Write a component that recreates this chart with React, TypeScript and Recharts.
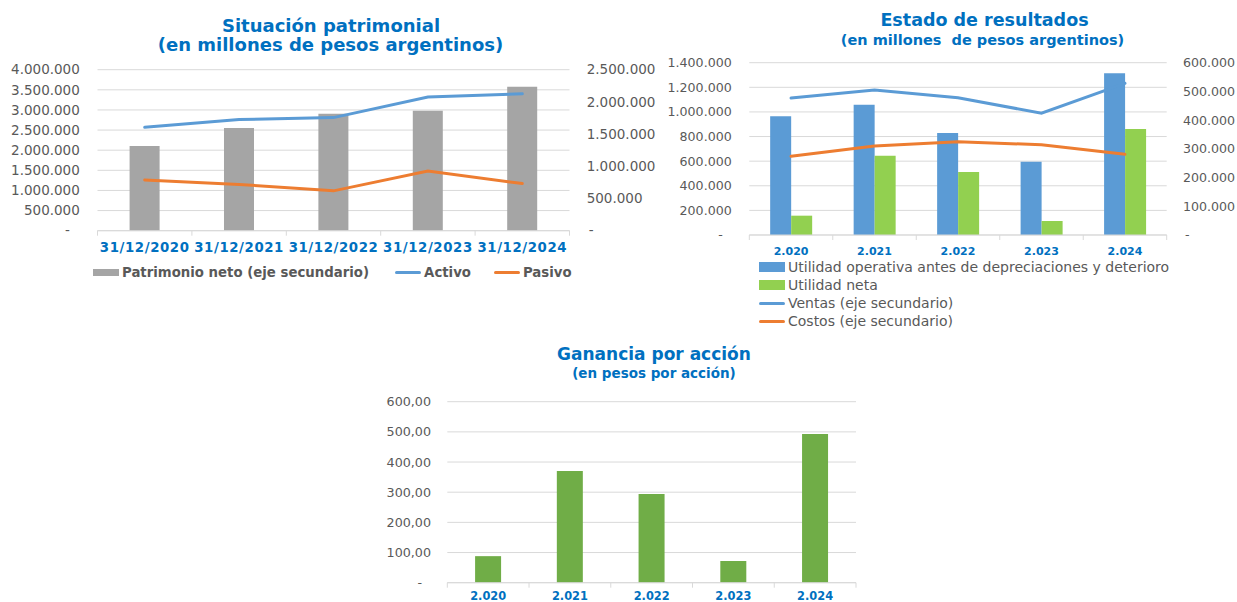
import {
  Bar,
  BarChart,
  CartesianGrid,
  ComposedChart,
  Line,
  XAxis,
  YAxis,
} from "recharts";

// Situación patrimonial (millones de pesos)
const fechas = ["31/12/2020", "31/12/2021", "31/12/2022", "31/12/2023", "31/12/2024"];
const patrimonioNeto = [1315000, 1595000, 1817000, 1863000, 2236000];
const activo = [2570000, 2760000, 2810000, 3320000, 3400000];
const pasivo = [1260000, 1150000, 990000, 1480000, 1170000];
const ticksActivo = [0, 500000, 1000000, 1500000, 2000000, 2500000, 3000000, 3500000, 4000000];
const ticksPatrimonio = [0, 500000, 1000000, 1500000, 2000000, 2500000];

// Estado de resultados (millones de pesos)
const anios = ["2.020", "2.021", "2.022", "2.023", "2.024"];
const utilidadOperativa = [964000, 1059000, 829000, 596000, 1314000];
const utilidadNeta = [157000, 644000, 512000, 114000, 861000];
const ventas = [477000, 505000, 478000, 424000, 528000];
const costos = [274000, 310000, 325000, 314000, 281000];
const ticksResultados = [0, 200000, 400000, 600000, 800000, 1000000, 1200000, 1400000];
const ticksVentas = [0, 100000, 200000, 300000, 400000, 500000, 600000];

// Ganancia por acción (pesos por acción)
const gananciaPorAccion = [88, 370, 294, 72, 493];
const ticksGanancia = [0, 100, 200, 300, 400, 500, 600];

const FONT = "'DejaVu Sans', Verdana, sans-serif";
const AZUL_TITULO = "#0070C0";
const GRIS_TEXTO = "#595959";
const GRIS_LINEA = "#D9D9D9";

const miles = (v: number) =>
  v === 0 ? "-" : Math.round(v).toString().replace(/\B(?=(\d{3})+(?!\d))/g, ".");
const decimales = (v: number) => (v === 0 ? "-" : v.toFixed(2).replace(".", ","));

const situacionData = fechas.map((fecha, i) => ({
  fecha,
  patrimonioNeto: patrimonioNeto[i],
  activo: activo[i],
  pasivo: pasivo[i],
}));

const resultadosData = anios.map((anio, i) => ({
  anio,
  utilidadOperativa: utilidadOperativa[i],
  utilidadNeta: utilidadNeta[i],
  ventas: ventas[i],
  costos: costos[i],
}));

const gananciaData = anios.map((anio, i) => ({ anio, ganancia: gananciaPorAccion[i] }));

function ValueTick(props: any) {
  const { x, y, payload, textAnchor, format, size, zeroShift } = props;
  const isZero = payload.value === 0;
  return (
    <text
      x={x + (isZero ? zeroShift : 0)}
      y={y}
      dy="0.355em"
      textAnchor={textAnchor}
      fill={GRIS_TEXTO}
      fontSize={size}
      fontFamily={FONT}
    >
      {format(payload.value)}
    </text>
  );
}

function CategoryTick(props: any) {
  const { x, y, payload, index, visibleTicksCount, gap, size, spacing } = props;
  const half = payload.offset ?? 0;
  const top = y - gap;
  return (
    <g>
      <line x1={x - half} x2={x - half} y1={top} y2={top + 5} stroke={GRIS_LINEA} />
      {index === visibleTicksCount - 1 && (
        <line x1={x + half} x2={x + half} y1={top} y2={top + 5} stroke={GRIS_LINEA} />
      )}
      <text
        x={x}
        y={y}
        dy="0.71em"
        textAnchor="middle"
        fill={AZUL_TITULO}
        fontSize={size}
        fontWeight="bold"
        fontFamily={FONT}
        letterSpacing={spacing}
      >
        {payload.value}
      </text>
    </g>
  );
}

function Title({ text, center, top, size }: { text: string; center: number; top: number; size: number }) {
  return (
    <div
      style={{
        position: "absolute",
        left: center - 250,
        top,
        width: 500,
        textAlign: "center",
        fontFamily: FONT,
        fontWeight: "bold",
        fontSize: size,
        lineHeight: 1,
        color: AZUL_TITULO,
        whiteSpace: "pre",
      }}
    >
      {text}
    </div>
  );
}

function Swatch({ color, kind, height }: { color: string; kind: "bar" | "line"; height?: number }) {
  return (
    <span
      style={{
        display: "inline-block",
        width: 26,
        height: kind === "bar" ? height ?? 8 : 3,
        background: color,
        marginRight: 3,
        borderRadius: kind === "line" ? 1.5 : 0,
      }}
    />
  );
}

function SituacionPatrimonial() {
  return (
    <>
      <Title text="Situación patrimonial" center={331} top={16.5} size={18} />
      <Title text="(en millones de pesos argentinos)" center={330.5} top={35.8} size={18} />
      <div style={{ position: "absolute", left: 0, top: 0 }}>
        <ComposedChart
          width={660}
          height={290}
          data={situacionData}
          margin={{ top: 69.7, right: 0, bottom: 29.3, left: 0 }}
          barCategoryGap="34%"
        >
          <CartesianGrid yAxisId="left" vertical={false} stroke={GRIS_LINEA} />
          <XAxis
            dataKey="fecha"
            height={30}
            interval={0}
            tickSize={0}
            tickMargin={11.6}
            axisLine={{ stroke: GRIS_LINEA }}
            tick={(p: any) => <CategoryTick {...p} gap={11.6} size={13.3} spacing={0.6} />}
          />
          <YAxis
            yAxisId="left"
            width={97.5}
            domain={[0, 4000000]}
            ticks={ticksActivo}
            interval={0}
            axisLine={false}
            tickLine={false}
            tickSize={0}
            tickMargin={17.7}
            tick={(p: any) => <ValueTick {...p} format={miles} size={13.5} zeroShift={-10} />}
          />
          <YAxis
            yAxisId="right"
            orientation="right"
            width={90.5}
            domain={[0, 2500000]}
            ticks={ticksPatrimonio}
            interval={0}
            axisLine={false}
            tickLine={false}
            tickSize={0}
            tickMargin={17.2}
            tick={(p: any) => <ValueTick {...p} format={miles} size={13.5} zeroShift={2} />}
          />
          <Bar yAxisId="right" dataKey="patrimonioNeto" fill="#A5A5A5" isAnimationActive={false} />
          <Line
            yAxisId="left"
            type="linear"
            dataKey="activo"
            stroke="#5B9BD5"
            strokeWidth={3}
            strokeLinecap="round"
            dot={false}
            isAnimationActive={false}
          />
          <Line
            yAxisId="left"
            type="linear"
            dataKey="pasivo"
            stroke="#ED7D31"
            strokeWidth={3}
            strokeLinecap="round"
            dot={false}
            isAnimationActive={false}
          />
        </ComposedChart>
      </div>
      <div
        style={{
          position: "absolute",
          left: 93,
          top: 264,
          height: 17,
          display: "flex",
          alignItems: "center",
          fontFamily: FONT,
          fontWeight: "bold",
          fontSize: 13.3,
          color: GRIS_TEXTO,
          whiteSpace: "nowrap",
        }}
      >
        <Swatch color="#A5A5A5" kind="bar" height={7} />
        <span style={{ marginRight: 26 }}>Patrimonio neto (eje secundario)</span>
        <Swatch color="#5B9BD5" kind="line" />
        <span style={{ marginRight: 23 }}>Activo</span>
        <Swatch color="#ED7D31" kind="line" />
        <span>Pasivo</span>
      </div>
    </>
  );
}

function EstadoResultados() {
  const items = [
    { label: "Utilidad operativa antes de depreciaciones y deterioro", color: "#5B9BD5", kind: "bar" as const },
    { label: "Utilidad neta", color: "#92D050", kind: "bar" as const },
    { label: "Ventas (eje secundario)", color: "#5B9BD5", kind: "line" as const },
    { label: "Costos (eje secundario)", color: "#ED7D31", kind: "line" as const },
  ];
  return (
    <>
      <Title text="Estado de resultados" center={984.5} top={11.5} size={17.5} />
      <Title text="(en millones  de pesos argentinos)" center={982.5} top={33.4} size={14.5} />
      <div style={{ position: "absolute", left: 640, top: 0 }}>
        <ComposedChart
          width={597}
          height={340}
          data={resultadosData}
          margin={{ top: 62.7, right: 0, bottom: 80, left: 0 }}
          barCategoryGap="25%"
          barGap={0}
        >
          <CartesianGrid yAxisId="left" vertical={false} stroke={GRIS_LINEA} />
          <XAxis
            dataKey="anio"
            height={25}
            interval={0}
            tickSize={0}
            tickMargin={12}
            axisLine={{ stroke: GRIS_LINEA }}
            tick={(p: any) => <CategoryTick {...p} gap={12} size={11} spacing={0} />}
          />
          <YAxis
            yAxisId="left"
            width={109.3}
            domain={[0, 1400000]}
            ticks={ticksResultados}
            interval={0}
            axisLine={false}
            tickLine={false}
            tickSize={0}
            tickMargin={17.6}
            tick={(p: any) => <ValueTick {...p} format={miles} size={12.6} zeroShift={-9} />}
          />
          <YAxis
            yAxisId="right"
            orientation="right"
            width={70.3}
            domain={[0, 600000]}
            ticks={ticksVentas}
            interval={0}
            axisLine={false}
            tickLine={false}
            tickSize={0}
            tickMargin={16.3}
            tick={(p: any) => <ValueTick {...p} format={miles} size={12.6} zeroShift={2} />}
          />
          <Bar yAxisId="left" dataKey="utilidadOperativa" fill="#5B9BD5" isAnimationActive={false} />
          <Bar yAxisId="left" dataKey="utilidadNeta" fill="#92D050" isAnimationActive={false} />
          <Line
            yAxisId="right"
            type="linear"
            dataKey="ventas"
            stroke="#5B9BD5"
            strokeWidth={3}
            strokeLinecap="round"
            dot={false}
            isAnimationActive={false}
          />
          <Line
            yAxisId="right"
            type="linear"
            dataKey="costos"
            stroke="#ED7D31"
            strokeWidth={3}
            strokeLinecap="round"
            dot={false}
            isAnimationActive={false}
          />
        </ComposedChart>
      </div>
      <div
        style={{
          position: "absolute",
          left: 759,
          top: 258,
          fontFamily: FONT,
          fontSize: 14,
          color: GRIS_TEXTO,
          whiteSpace: "nowrap",
        }}
      >
        {items.map((item) => (
          <div key={item.label} style={{ height: 18, display: "flex", alignItems: "center" }}>
            <Swatch color={item.color} kind={item.kind} height={10} />
            <span>{item.label}</span>
          </div>
        ))}
      </div>
    </>
  );
}

function GananciaPorAccion() {
  return (
    <>
      <Title text="Ganancia por acción" center={654} top={346.3} size={17} />
      <Title text="(en pesos por acción)" center={654} top={366.9} size={13.5} />
      <div style={{ position: "absolute", left: 330, top: 340 }}>
        <BarChart
          width={560}
          height={262}
          data={gananciaData}
          margin={{ top: 61.7, right: 34, bottom: 0, left: 0 }}
          barCategoryGap="34%"
        >
          <CartesianGrid vertical={false} stroke={GRIS_LINEA} />
          <XAxis
            dataKey="anio"
            height={19.3}
            interval={0}
            tickSize={0}
            tickMargin={9.3}
            axisLine={{ stroke: GRIS_LINEA }}
            tick={(p: any) => <CategoryTick {...p} gap={9.3} size={11.4} spacing={0} />}
          />
          <YAxis
            width={117.3}
            domain={[0, 600]}
            ticks={ticksGanancia}
            interval={0}
            axisLine={false}
            tickLine={false}
            tickSize={0}
            tickMargin={16.3}
            tick={(p: any) => <ValueTick {...p} format={decimales} size={12.7} zeroShift={-9} />}
          />
          <Bar dataKey="ganancia" fill="#70AD47" isAnimationActive={false} />
        </BarChart>
      </div>
    </>
  );
}

export default function App() {
  return (
    <div style={{ position: "absolute", left: 0, top: 0, width: 1237, height: 602, background: "#fff" }}>
      <SituacionPatrimonial />
      <EstadoResultados />
      <GananciaPorAccion />
    </div>
  );
}
